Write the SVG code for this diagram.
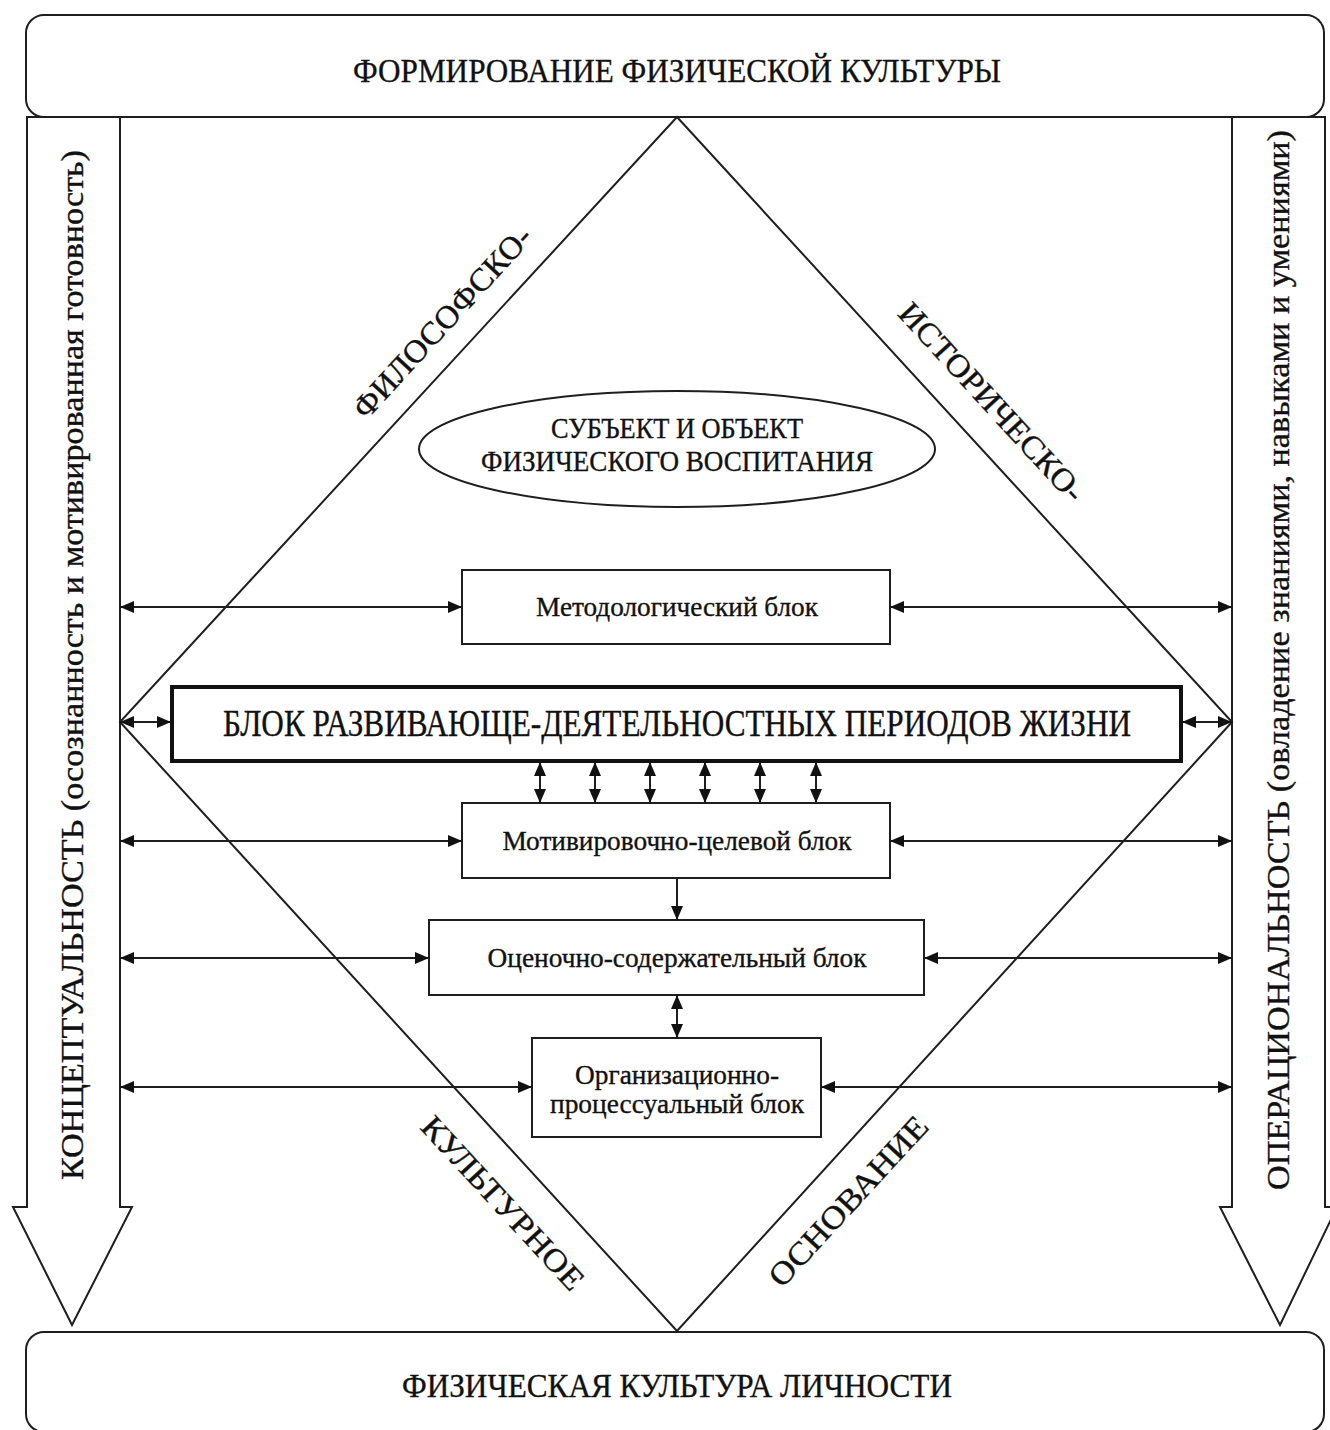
<svg xmlns="http://www.w3.org/2000/svg" width="1330" height="1430" viewBox="0 0 1330 1430">
<style>
.ln{fill:none;stroke:#1e1e1e;stroke-width:2}
.bx{fill:#fff;stroke:#1e1e1e;stroke-width:2}
.thick{fill:#fff;stroke:#111;stroke-width:4}
.t{font-family:"Liberation Serif","Times New Roman",serif;fill:#111;text-anchor:middle;stroke:#111;stroke-width:0.35}
.conn{fill:none;stroke:#1e1e1e;stroke-width:2}
.dbl{marker-start:url(#ah);marker-end:url(#ah)}
.one{marker-end:url(#ah)}
</style>
<defs>
<marker id="ah" markerUnits="userSpaceOnUse" markerWidth="14" markerHeight="12" refX="13" refY="6" orient="auto-start-reverse" viewBox="0 0 14 12">
<path d="M0,0 L14,6 L0,12 Z" fill="#111"/>
</marker>
</defs>
<rect width="1330" height="1430" fill="#fff"/>

<g id="top-box">
<rect class="bx" x="26" y="15" width="1298" height="102" rx="18"/>
<text class="t" x="677" y="82" font-size="34" textLength="648" lengthAdjust="spacingAndGlyphs">ФОРМИРОВАНИЕ ФИЗИЧЕСКОЙ КУЛЬТУРЫ</text>
</g>

<g id="bottom-box">
<rect class="bx" x="26" y="1332" width="1298" height="100" rx="18"/>
<text class="t" x="677" y="1397" font-size="34" textLength="550" lengthAdjust="spacingAndGlyphs">ФИЗИЧЕСКАЯ КУЛЬТУРА ЛИЧНОСТИ</text>
</g>

<g id="left-arrow">
<path class="bx" d="M27,117 L120,117 L120,1207 L132,1207 L72,1325 L13,1207 L27,1207 Z"/>
<text class="t" transform="translate(83,665) rotate(-90)" font-size="31" textLength="1030" lengthAdjust="spacingAndGlyphs">КОНЦЕПТУАЛЬНОСТЬ (осознанность и мотивированная готовность)</text>
</g>

<g id="right-arrow">
<path class="bx" d="M1232,117 L1325,117 L1325,1207 L1337,1207 L1280,1325 L1220,1207 L1232,1207 Z"/>
<text class="t" transform="translate(1289,660) rotate(-90)" font-size="31" textLength="1060" lengthAdjust="spacingAndGlyphs">ОПЕРАЦИОНАЛЬНОСТЬ (овладение знаниями, навыками и умениями)</text>
</g>

<g id="diamond">
<polygon class="ln" points="677,117 1232,722 677,1331 120,722"/>
<text class="t" transform="translate(442,322) rotate(-47.4)" y="11" font-size="32" textLength="248" lengthAdjust="spacingAndGlyphs">ФИЛОСОФСКО-</text>
<text class="t" transform="translate(992,402) rotate(47.4)" y="11" font-size="32" textLength="258" lengthAdjust="spacingAndGlyphs">ИСТОРИЧЕСКО-</text>
<text class="t" transform="translate(503,1203) rotate(47.4)" y="11" font-size="32" textLength="224" lengthAdjust="spacingAndGlyphs">КУЛЬТУРНОЕ</text>
<text class="t" transform="translate(848,1201) rotate(-47.4)" y="11" font-size="32" textLength="219" lengthAdjust="spacingAndGlyphs">ОСНОВАНИЕ</text>
</g>

<g id="subject-object">
<ellipse class="bx" cx="677" cy="449" rx="258" ry="58"/>
<text class="t" x="677" y="438" font-size="30" textLength="252" lengthAdjust="spacingAndGlyphs">СУБЪЕКТ И ОБЪЕКТ</text>
<text class="t" x="677" y="471" font-size="30" textLength="392" lengthAdjust="spacingAndGlyphs">ФИЗИЧЕСКОГО ВОСПИТАНИЯ</text>
</g>

<g id="methodological">
<rect class="bx" x="462" y="570" width="428" height="74"/>
<text class="t" x="677" y="616" font-size="27" textLength="282" lengthAdjust="spacingAndGlyphs">Методологический блок</text>
</g>

<g id="life-periods">
<rect class="thick" x="172" y="687" width="1009" height="74"/>
<text class="t" x="677" y="736" font-size="37" textLength="908" lengthAdjust="spacingAndGlyphs">БЛОК РАЗВИВАЮЩЕ-ДЕЯТЕЛЬНОСТНЫХ ПЕРИОДОВ ЖИЗНИ</text>
</g>

<g id="motivational">
<rect class="bx" x="462" y="803" width="428" height="75"/>
<text class="t" x="677" y="850" font-size="27" textLength="349" lengthAdjust="spacingAndGlyphs">Мотивировочно-целевой блок</text>
</g>

<g id="evaluative">
<rect class="bx" x="429" y="920" width="495" height="75"/>
<text class="t" x="677" y="967" font-size="27" textLength="379" lengthAdjust="spacingAndGlyphs">Оценочно-содержательный блок</text>
</g>

<g id="organizational">
<rect class="bx" x="532" y="1038" width="289" height="99"/>
<text class="t" x="677" y="1084" font-size="27" textLength="204" lengthAdjust="spacingAndGlyphs">Организационно-</text>
<text class="t" x="677" y="1113" font-size="27" textLength="254" lengthAdjust="spacingAndGlyphs">процессуальный блок</text>
</g>

<g id="connectors">
<line class="conn dbl" x1="121" y1="607" x2="461" y2="607"/>
<line class="conn dbl" x1="891" y1="607" x2="1231" y2="607"/>
<line class="conn dbl" x1="121" y1="722" x2="170" y2="722"/>
<line class="conn dbl" x1="1183" y1="722" x2="1231" y2="722"/>
<line class="conn dbl" x1="540" y1="763" x2="540" y2="802"/>
<line class="conn dbl" x1="595" y1="763" x2="595" y2="802"/>
<line class="conn dbl" x1="650" y1="763" x2="650" y2="802"/>
<line class="conn dbl" x1="705" y1="763" x2="705" y2="802"/>
<line class="conn dbl" x1="760" y1="763" x2="760" y2="802"/>
<line class="conn dbl" x1="816" y1="763" x2="816" y2="802"/>
<line class="conn dbl" x1="121" y1="841" x2="461" y2="841"/>
<line class="conn dbl" x1="891" y1="841" x2="1231" y2="841"/>
<line class="conn one" x1="677" y1="879" x2="677" y2="919"/>
<line class="conn dbl" x1="121" y1="958" x2="428" y2="958"/>
<line class="conn dbl" x1="925" y1="958" x2="1231" y2="958"/>
<line class="conn dbl" x1="677" y1="996" x2="677" y2="1037"/>
<line class="conn dbl" x1="121" y1="1087" x2="531" y2="1087"/>
<line class="conn dbl" x1="822" y1="1087" x2="1231" y2="1087"/>
</g>
</svg>
